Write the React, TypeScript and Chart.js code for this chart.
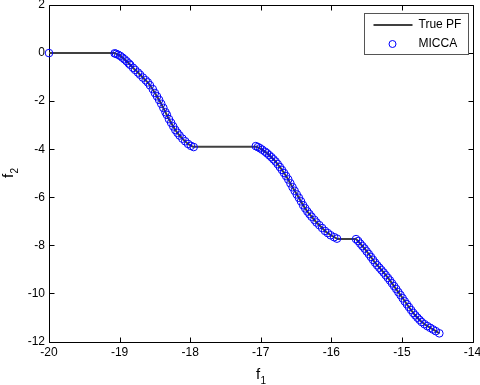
import React, { useEffect, useRef } from "react";
import { Chart, registerables } from "chart.js";

Chart.register(...registerables);

// ---- data ----
const xTickValues = [-20, -19, -18, -17, -16, -15, -14];
const yTickValues = [2, 0, -2, -4, -6, -8, -10, -12];
const seriesLabels = ["True PF", "MICCA"];
const xTitle = "f";
const xTitleSub = "1";
const yTitle = "f";
const yTitleSub = "2";

const trueF1 = [
  -20, -19.07, -19.0, -18.925, -18.85, -18.807, -18.75, -18.688, -18.595, -18.55, -18.5, -18.45,
  -18.405, -18.36, -18.312, -18.26, -18.217, -18.16, -18.1, -18.03, -17.96,
  -17.06, -16.99, -16.92, -16.86, -16.8, -16.707, -16.66, -16.614, -16.57, -16.52, -16.47, -16.424,
  -16.38, -16.33, -16.27, -16.212, -16.14, -16.07, -15.99, -15.91,
  -15.65, -15.59, -15.528, -15.46, -15.387, -15.315, -15.245, -15.17, -15.104, -15.045, -14.986,
  -14.93, -14.868, -14.81, -14.75, -14.67, -14.585, -14.52, -14.467,
];
const trueF2 = [
  0, 0, -0.1, -0.27, -0.48, -0.62, -0.78, -0.965, -1.24, -1.42, -1.66, -1.9,
  -2.14, -2.4, -2.69, -2.95, -3.17, -3.4, -3.59, -3.78, -3.9,
  -3.9, -4.0, -4.14, -4.3, -4.48, -4.83, -5.03, -5.24, -5.48, -5.73, -5.97, -6.21,
  -6.42, -6.63, -6.84, -7.04, -7.25, -7.45, -7.61, -7.74,
  -7.74, -7.93, -8.14, -8.4, -8.7, -8.94, -9.18, -9.46, -9.73, -9.97, -10.21,
  -10.45, -10.7, -10.92, -11.11, -11.3, -11.45, -11.57, -11.66,
];

const miccaF1 = [
  -20,
  -19.07, -19.05, -19.02, -18.99, -18.96, -18.93, -18.9, -18.87, -18.85, -18.81, -18.78, -18.74,
  -18.71, -18.67, -18.63, -18.6, -18.57, -18.53, -18.5, -18.47, -18.44, -18.41, -18.38, -18.35,
  -18.33, -18.3, -18.27, -18.24, -18.21, -18.18, -18.15, -18.11, -18.07, -18.03, -17.99, -17.95,
  -17.07, -17.04, -17.01, -16.98, -16.94, -16.91, -16.88, -16.85, -16.82, -16.79, -16.76, -16.73,
  -16.7, -16.67, -16.64, -16.61, -16.58, -16.55, -16.52, -16.49, -16.46, -16.43, -16.4, -16.37,
  -16.34, -16.31, -16.28, -16.24, -16.21, -16.17, -16.13, -16.09, -16.05, -16.01, -15.96, -15.92,
  -15.65, -15.62, -15.59, -15.56, -15.53, -15.5, -15.47, -15.44, -15.41, -15.38, -15.35, -15.32,
  -15.29, -15.26, -15.23, -15.2, -15.17, -15.14, -15.11, -15.08, -15.05, -15.02, -14.99, -14.96,
  -14.93, -14.9, -14.87, -14.84, -14.81, -14.78, -14.75, -14.72, -14.68, -14.64, -14.6, -14.56,
  -14.52, -14.47,
];
const miccaF2 = [
  0,
  -0.01, -0.03, -0.07, -0.12, -0.19, -0.26, -0.34, -0.43, -0.49, -0.61, -0.7, -0.81,
  -0.9, -1.02, -1.13, -1.22, -1.34, -1.5, -1.66, -1.8, -1.95, -2.11, -2.28, -2.46,
  -2.57, -2.75, -2.9, -3.05, -3.2, -3.32, -3.43, -3.56, -3.67, -3.78, -3.86, -3.91,
  -3.87, -3.91, -3.96, -4.02, -4.1, -4.17, -4.25, -4.33, -4.42, -4.51, -4.62, -4.74,
  -4.86, -4.99, -5.12, -5.26, -5.42, -5.58, -5.73, -5.88, -6.02, -6.17, -6.33, -6.46,
  -6.59, -6.7, -6.81, -6.94, -7.05, -7.16, -7.28, -7.4, -7.49, -7.58, -7.66, -7.72,
  -7.74, -7.82, -7.93, -8.03, -8.13, -8.25, -8.36, -8.48, -8.6, -8.72, -8.83, -8.93,
  -9.03, -9.13, -9.24, -9.35, -9.46, -9.58, -9.7, -9.82, -9.95, -10.07, -10.2, -10.33,
  -10.45, -10.57, -10.69, -10.81, -10.91, -11.01, -11.1, -11.19, -11.28, -11.36, -11.43, -11.5,
  -11.57, -11.66,
];

const FONT = "Arial, 'Liberation Sans', Helvetica, sans-serif";
const LINE_COLOR = "#404040";
const MARK_COLOR = "#0000ff";

const framePlugin = {
  id: "matlabFrame",
  beforeDatasetsDraw(chart: any) {
    const { ctx, chartArea: a, scales } = chart;
    ctx.save();
    ctx.strokeStyle = "#000";
    ctx.lineWidth = 1;
    const L = Math.round(a.left) + 0.5;
    const R = Math.round(a.right) + 0.5;
    const T = Math.round(a.top) + 0.5;
    const B = Math.round(a.bottom) + 0.5;
    ctx.beginPath();
    ctx.rect(L, T, R - L, B - T);
    ctx.stroke();
    const tl = 5;
    ctx.beginPath();
    xTickValues.forEach((v) => {
      const px = Math.round(scales.x.getPixelForValue(v)) + 0.5;
      ctx.moveTo(px, B);
      ctx.lineTo(px, B - tl);
      ctx.moveTo(px, T);
      ctx.lineTo(px, T + tl);
    });
    yTickValues.forEach((v) => {
      const py = Math.round(scales.y.getPixelForValue(v)) + 0.5;
      ctx.moveTo(L, py);
      ctx.lineTo(L + tl, py);
      ctx.moveTo(R, py);
      ctx.lineTo(R - tl, py);
    });
    ctx.stroke();
    ctx.restore();
  },
  afterDraw(chart: any) {
    const { ctx, chartArea: a } = chart;
    ctx.save();
    ctx.fillStyle = "#000";
    ctx.textBaseline = "alphabetic";
    ctx.textAlign = "left";
    const cx = (a.left + a.right) / 2;
    ctx.font = `15px ${FONT}`;
    const fw = ctx.measureText(xTitle).width;
    ctx.font = `10px ${FONT}`;
    const sw = ctx.measureText(xTitleSub).width;
    const startX = cx - (fw + sw) / 2;
    ctx.font = `15px ${FONT}`;
    ctx.fillText(xTitle, startX, 379);
    ctx.font = `10px ${FONT}`;
    ctx.fillText(xTitleSub, startX + fw + 0.5, 384);

    const cy = (a.top + a.bottom) / 2;
    ctx.translate(13, cy);
    ctx.rotate(-Math.PI / 2);
    ctx.font = `15px ${FONT}`;
    const fw2 = ctx.measureText(yTitle).width;
    ctx.font = `10px ${FONT}`;
    const sw2 = ctx.measureText(yTitleSub).width;
    const sx = -(fw2 + sw2) / 2;
    ctx.font = `15px ${FONT}`;
    ctx.fillText(yTitle, sx, 0);
    ctx.font = `10px ${FONT}`;
    ctx.fillText(yTitleSub, sx + fw2 + 0.5, 5);
    ctx.restore();

    // legend box
    ctx.save();
    const bx = Math.round(a.right - 109) + 0.5;
    const by = Math.round(a.top + 8) + 0.5;
    const bw = 104;
    const bh = 41;
    ctx.fillStyle = "#fff";
    ctx.fillRect(bx, by, bw, bh);
    ctx.strokeStyle = "#555";
    ctx.lineWidth = 1;
    ctx.strokeRect(bx, by, bw, bh);
    const labels = chart.data.datasets.map((d: any) => d.label);
    ctx.strokeStyle = LINE_COLOR;
    ctx.lineWidth = 2;
    ctx.beginPath();
    ctx.moveTo(bx + 9, by + 11.5);
    ctx.lineTo(bx + 48, by + 11.5);
    ctx.stroke();
    ctx.strokeStyle = MARK_COLOR;
    ctx.lineWidth = 1;
    ctx.beginPath();
    ctx.arc(bx + 28, by + 30.5, 3.5, 0, Math.PI * 2);
    ctx.stroke();
    ctx.fillStyle = "#000";
    ctx.font = `12px ${FONT}`;
    ctx.textBaseline = "middle";
    ctx.textAlign = "left";
    ctx.fillText(labels[0], bx + 54, by + 11.5);
    ctx.fillText(labels[1], bx + 54, by + 30.5);
    ctx.restore();
  },
};

export default function App() {
  const ref = useRef<HTMLCanvasElement | null>(null);
  useEffect(() => {
    if (!ref.current) return;
    const chart = new Chart(ref.current, {
      type: "scatter",
      data: {
        datasets: [
          {
            label: seriesLabels[0],
            data: trueF1.map((x, i) => ({ x, y: trueF2[i] })),
            showLine: true,
            borderColor: LINE_COLOR,
            borderWidth: 2,
            pointRadius: 0,
            tension: 0,
            clip: false as any,
            order: 2,
          },
          {
            label: seriesLabels[1],
            data: miccaF1.map((x, i) => ({ x, y: miccaF2[i] })),
            showLine: false,
            borderColor: MARK_COLOR,
            backgroundColor: "rgba(0,0,0,0)",
            borderWidth: 1,
            pointRadius: 3.8,
            pointStyle: "circle",
            clip: false as any,
            order: 1,
          },
        ],
      },
      options: {
        animation: false,
        responsive: false,
        devicePixelRatio: 1,
        layout: { padding: { left: 0, top: 3.5, right: 7.5, bottom: 0 } },
        plugins: {
          legend: { display: false },
          tooltip: { enabled: false },
        },
        scales: {
          x: {
            type: "linear",
            min: -20,
            max: -14,
            grid: { display: false, drawTicks: false },
            border: { display: false },
            afterBuildTicks: (s: any) => {
              s.ticks = xTickValues.map((v) => ({ value: v }));
            },
            ticks: {
              padding: 4,
              color: "#000",
              font: { family: FONT, size: 12 },
              maxRotation: 0,
              autoSkip: false,
              callback: (v: any) => String(v),
            },
            afterFit: (s: any) => {
              s.height = 43.5;
              s.paddingLeft = 0;
              s.paddingRight = 0;
            },
          },
          y: {
            type: "linear",
            min: -12,
            max: 2,
            grid: { display: false, drawTicks: false },
            border: { display: false },
            afterBuildTicks: (s: any) => {
              s.ticks = yTickValues.map((v) => ({ value: v }));
            },
            ticks: {
              padding: 4,
              color: "#000",
              font: { family: FONT, size: 12 },
              autoSkip: false,
              callback: (v: any) => String(v),
            },
            afterFit: (s: any) => {
              s.width = 49;
              s.paddingTop = 0;
              s.paddingBottom = 0;
            },
          },
        },
      },
      plugins: [framePlugin],
    });
    return () => chart.destroy();
  }, []);
  return (
    <div style={{ position: "absolute", left: 0, top: 0, width: 480, height: 385, background: "#fff" }}>
      <canvas ref={ref} width={480} height={385} style={{ width: 480, height: 385, display: "block" }} />
    </div>
  );
}
